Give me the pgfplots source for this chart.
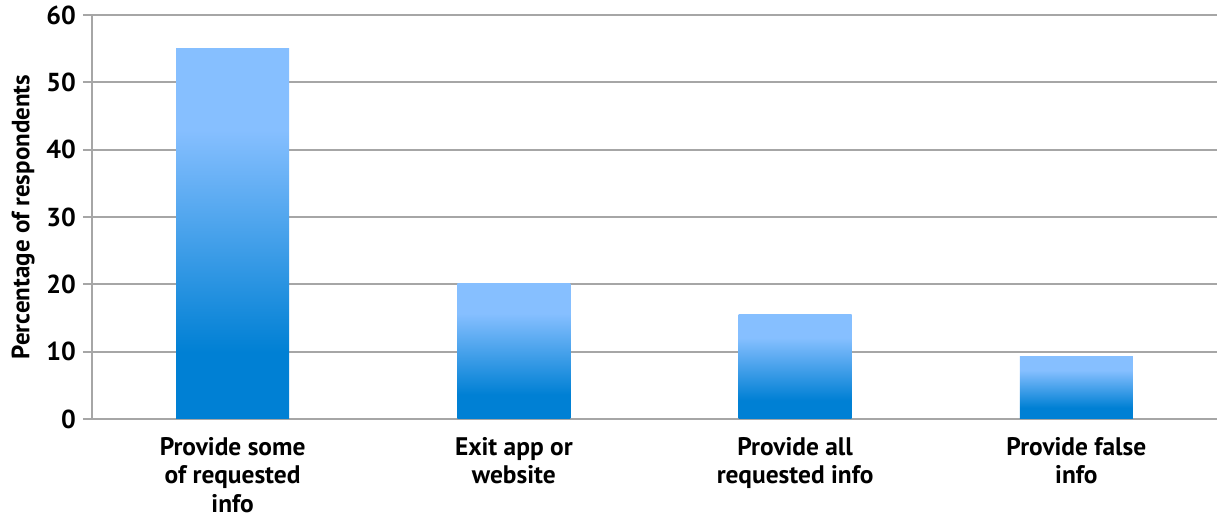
\documentclass[border=0pt]{standalone}
\usepackage{fontspec}
\setmainfont{PT Sans}
\usepackage{pgfplots}
\pgfplotsset{compat=1.18}
\definecolor{dk}{RGB}{0,128,212}
\definecolor{lt}{RGB}{134,191,255}
\definecolor{gridc}{RGB}{166,166,166}
\pgfdeclareverticalshading{barshade}{100bp}{color(0bp)=(dk); color(34bp)=(dk); color(64bp)=(lt); color(100bp)=(lt)}
\begin{document}
\begin{tikzpicture}
\begin{axis}[
  name=ax,
  scale only axis,
  width=562.5pt, height=202pt,
  xmin=-0.5, xmax=3.5,
  ymin=0, ymax=60,
  ytick={0,10,...,60},
  xtick={0,1,2,3},
  xticklabels={{Provide some\\of requested\\info},{Exit app or\\website},{Provide all\\requested info},{Provide false\\info}},
  x tick label style={align=center, font=\bfseries\fontsize{12.7}{14.25}\selectfont, yshift=-1pt},
  y tick label style={font=\bfseries\fontsize{13}{14}\selectfont},
  /pgf/number format/assume math mode=true,
  major x tick style={draw=none},
  extra x ticks={-0.5,0.5,1.5,2.5},
  extra x tick labels={},
  extra x tick style={major tick length=5pt, tick style={draw=gridc, line width=1pt}, tick align=outside},
  ytick align=outside,
  y tick style={draw=gridc, line width=1pt},
  major tick length=4.5pt,
  ymajorgrids,
  grid style={draw=gridc, line width=1pt},
  axis x line*=bottom,
  axis y line*=left,
  axis line style={draw=gridc, line width=1pt, -},
  ylabel={Percentage of respondents},
  ylabel style={font=\bfseries\fontsize{12.5}{13}\selectfont, yshift=-1pt},
  ybar, bar width=56.5pt, bar shift=0pt,
  clip=false,
]
\addplot[draw=none, shading=barshade] coordinates {(0,55)};
\addplot[draw=none, shading=barshade] coordinates {(1,20.1)};
\addplot[draw=none, shading=barshade] coordinates {(2,15.5)};
\addplot[draw=none, shading=barshade] coordinates {(3,9.3)};
\end{axis}
\pgfresetboundingbox
\path[use as bounding box] ([xshift=-46pt,yshift=-50.5pt]ax.south west) rectangle ([yshift=7.5pt]ax.north east);
\end{tikzpicture}
\end{document}
